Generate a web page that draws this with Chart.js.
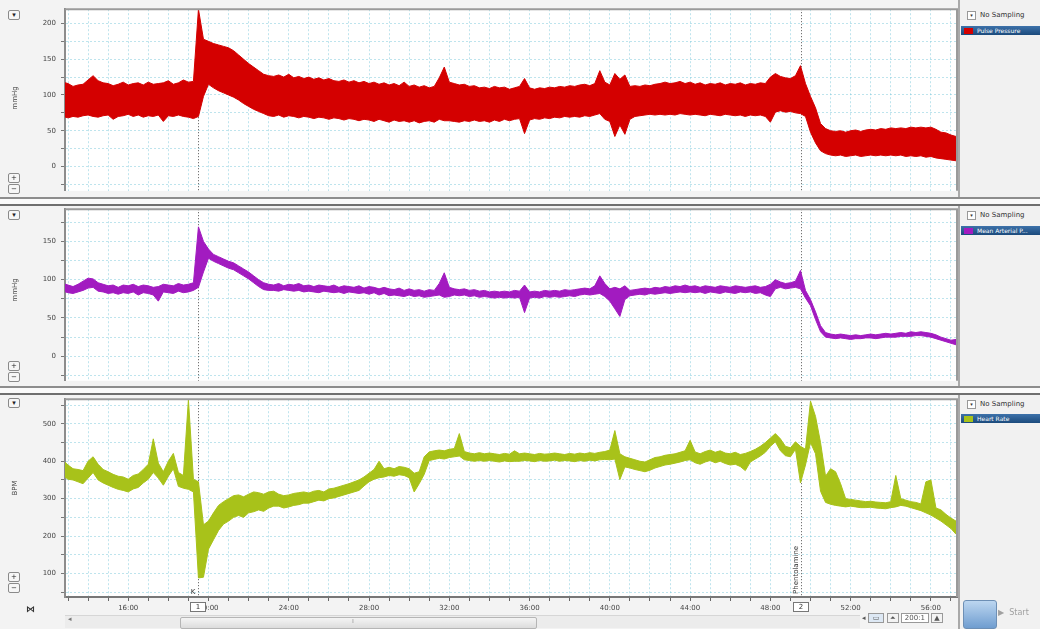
<!DOCTYPE html>
<html>
<head>
<meta charset="utf-8">
<title>LabChart recording</title>
<script src="https://cdn.jsdelivr.net/npm/chart.js@4.4.1/dist/chart.umd.min.js"></script>
<style>
  body { margin: 0; width: 1040px; height: 629px; overflow: hidden; position: relative;
         background: #f3f3f3; font-family: "DejaVu Sans", sans-serif; color: #333; }
  canvas { position: absolute; left: 0; }
  .sep { position: absolute; left: 0; width: 1040px; height: 5px; border-top: 2px solid #8d8d8d;
         border-bottom: 2px solid #6f6f6f; background: #fafafa; z-index: 2; }
  .btn { position: absolute; left: 8px; width: 10px; height: 8px; border: 1px solid #8a8a8a; border-radius: 2px;
         background: #f6f6f6; font-size: 7px; line-height: 8px; text-align: center; color: #222; }
  .unit { position: absolute; left: -5px; width: 40px; font-size: 7px; text-align: center; transform: rotate(-90deg); color: #444; }
  .side { position: absolute; left: 958px; width: 82px; border-left: 2px solid #a9a9a9; background: #f1f1f1; }
  .samp { position: absolute; left: 7px; font-size: 7px; white-space: nowrap; color: #333; }
  .samp b { display: inline-block; width: 7px; height: 7px; border: 1px solid #999; font-size: 5px; line-height: 7px;
            text-align: center; font-weight: normal; margin-right: 4px; background: #fff; }
  .chan { position: absolute; left: 1px; width: 81px; height: 9px; background: linear-gradient(#3d72aa, #1b4a7c);
          color: #fff; font-size: 6px; line-height: 9px; white-space: nowrap; overflow: hidden; }
  .chan i { display: inline-block; width: 9px; height: 6px; margin: 0 4px 0 3px; vertical-align: -1px; }
  .bar { position: absolute; top: 615px; height: 12px; }
</style>
</head>
<body>
<canvas id="pp" width="958" height="200" style="top:0"></canvas>
<canvas id="map" width="958" height="190" style="top:200px"></canvas>
<canvas id="hr" width="958" height="239" style="top:390px"></canvas>

<div class="sep" style="top:197px"></div>
<div class="sep" style="top:386px"></div>

<div class="btn" style="top:10px">▾</div>
<div class="btn" style="top:173px">+</div>
<div class="btn" style="top:184px">−</div>
<div class="unit" style="top:94px">mmHg</div>
<div class="btn" style="top:210px">▾</div>
<div class="btn" style="top:361px">+</div>
<div class="btn" style="top:372px">−</div>
<div class="unit" style="top:286px">mmHg</div>
<div class="btn" style="top:398px">▾</div>
<div class="btn" style="top:572px">+</div>
<div class="btn" style="top:583px">−</div>
<div class="unit" style="top:484px">BPM</div>
<div style="position:absolute;left:26px;top:604px;font-size:9px;font-weight:bold;color:#333">⋈</div>

<div class="side" style="top:0;height:197px">
  <div class="samp" style="top:11px"><b>▾</b>No Sampling</div>
  <div class="chan" style="top:26px"><i style="background:#d40000"></i>Pulse Pressure</div>
</div>
<div class="side" style="top:206px;height:180px">
  <div class="samp" style="top:5px"><b>▾</b>No Sampling</div>
  <div class="chan" style="top:20px"><i style="background:#a21bc0"></i>Mean Arterial P...</div>
</div>
<div class="side" style="top:395px;height:234px">
  <div class="samp" style="top:5px"><b>▾</b>No Sampling</div>
  <div class="chan" style="top:19px"><i style="background:#a8c21a"></i>Heart Rate</div>
  <div style="position:absolute;left:3px;top:205px;width:32px;height:27px;border:1px solid #6d8fb5;border-radius:3px;background:linear-gradient(#bcd6f0,#6f9dd0)"></div>
  <div style="position:absolute;left:38px;top:213px;font-size:8px;color:#a0a0a0">▶ &nbsp;Start</div>
</div>

<div class="bar" style="left:65px;width:795px;background:#ececec;border-top:1px solid #d6d6d6"></div>
<div class="bar" style="left:180px;width:355px;height:10px;top:617px;background:linear-gradient(#f4f4f4,#dcdcdc);border:1px solid #b5b5b5;border-radius:2px"></div>
<div style="position:absolute;left:68px;top:615px;font-size:7px;color:#777">◂</div>
<div style="position:absolute;left:352px;top:617px;font-size:6px;color:#777">⁞</div>
<div style="position:absolute;left:862px;top:614px;font-size:7px;color:#555;white-space:nowrap">
  ◂ <span style="border:1px solid #999;padding:0 4px;background:#dde8f4">▭</span>
  <span style="border:1px solid #999;padding:0 2px">⏶</span>
  <span style="border:1px solid #999;padding:0 3px;background:#fff">200:1</span>
  <span style="border:1px solid #999;padding:0 2px">▲</span>
</div>

<script>
// sample grid of the traces (minutes)
const t0 = 12.75;
const dt = 0.25;
const xMin = 12.85, xMax = 57.3;

// Pulse Pressure (mmHg): upper / lower envelope of the pulsatile trace
const ppHigh = [118,116,112,114,115,121,127,120,117,116,
  113,115,118,114,116,117,114,118,115,116,
  117,120,115,117,121,118,119,220,178,175,
  172,170,168,166,162,156,150,144,139,134,
  129,127,126,128,125,129,124,126,123,125,
  122,124,121,123,120,119,121,118,120,117,
  119,116,118,115,117,114,116,113,118,112,
  114,111,113,110,112,124,139,118,116,114,
  115,112,113,110,111,109,112,110,111,108,
  110,112,123,110,108,110,109,111,110,112,
  111,113,112,114,115,113,116,134,118,114,
  130,122,128,112,113,112,114,113,115,116,
  118,116,117,119,116,118,115,117,114,116,
  115,117,114,116,115,117,114,116,115,117,
  116,125,130,126,124,123,127,141,116,98,
  82,60,53,50,49,50,48,50,51,49,
  51,52,51,53,52,54,53,54,53,55,
  54,55,54,55,52,48,47,44,42];
const ppLow = [70,68,70,69,71,72,70,69,71,72,
  66,70,71,73,70,72,69,71,70,72,
  63,71,70,72,70,69,67,70,98,115,
  110,106,103,100,97,93,88,84,80,77,
  74,71,70,72,69,71,70,68,70,69,
  67,69,68,66,68,67,65,67,66,64,
  66,65,63,66,64,62,65,63,64,62,
  64,61,63,64,62,66,64,64,63,62,
  64,63,65,63,64,62,65,63,66,64,
  66,67,46,65,67,66,68,67,69,68,
  70,69,70,69,71,70,72,74,66,63,
  42,58,45,66,70,71,72,73,72,73,
  72,73,72,74,73,72,73,72,71,73,
  72,71,73,72,71,72,70,72,71,72,
  70,62,76,78,76,77,75,74,70,48,
  33,22,18,16,15,16,14,15,16,14,
  15,16,15,16,15,16,15,16,14,15,
  14,15,13,14,12,11,10,9,8];

// Mean Arterial Pressure (mmHg)
const mapHigh = [95,93,91,94,98,102,101,96,94,92,
  93,90,93,92,94,91,93,92,90,91,
  94,93,92,95,93,94,96,169,150,140,
  133,130,127,124,122,118,114,110,105,100,
  96,94,93,95,92,94,93,95,92,93,
  91,93,92,91,93,90,92,91,90,92,
  89,91,90,88,90,88,87,89,86,88,
  86,87,85,87,86,95,109,90,88,87,
  88,86,87,85,86,84,85,84,85,84,
  86,85,93,84,85,84,86,85,86,85,
  87,86,87,88,89,88,92,105,95,88,
  90,88,92,86,87,88,89,88,90,89,
  91,90,92,91,93,91,92,90,92,91,
  90,92,91,90,92,91,90,91,92,90,
  91,94,100,97,95,96,98,112,86,74,
  58,40,31,29,28,29,28,27,28,27,
  28,29,28,29,30,29,30,31,30,32,
  31,32,31,30,28,25,23,21,22];
const mapLow = [85,83,82,84,86,89,90,85,84,82,
  83,81,83,82,84,80,83,82,80,72,
  84,83,82,85,83,84,86,90,110,128,
  124,121,118,115,113,109,105,101,96,91,
  87,86,86,85,87,86,85,86,84,85,
  84,83,85,84,83,84,82,84,83,82,
  83,81,83,80,82,79,80,79,78,80,
  78,79,77,78,79,80,77,78,80,79,
  80,78,79,77,78,77,76,77,76,77,
  76,77,57,76,77,76,78,77,78,77,
  78,79,78,80,81,80,81,82,78,72,
  62,52,74,79,80,81,80,82,81,82,
  83,82,83,84,83,84,83,84,82,84,
  83,82,84,83,82,84,83,84,82,83,
  80,78,88,90,88,89,90,88,76,66,
  48,32,25,24,23,24,23,22,23,23,
  24,24,23,24,25,25,25,26,26,26,
  27,27,26,25,23,21,19,17,15];

// Heart Rate (BPM)
const hrHigh = [402,390,380,378,375,400,412,392,378,372,
  365,360,358,352,362,366,378,392,460,395,
  372,400,421,370,362,565,352,345,230,240,
  262,282,292,300,308,310,305,312,318,316,
  312,318,320,312,308,310,314,316,318,315,
  320,322,318,326,328,332,336,340,345,350,
  358,368,378,400,380,384,380,386,384,380,
  368,372,412,425,428,430,428,432,434,474,
  426,422,420,423,420,422,420,418,421,419,
  428,420,422,420,418,421,419,420,422,420,
  418,421,419,422,420,423,421,424,426,430,
  482,420,412,408,404,400,398,404,410,412,
  416,418,420,424,428,456,425,420,426,430,
  424,428,422,420,424,418,421,426,432,440,
  450,462,474,460,440,436,452,440,432,561,
  520,450,360,380,372,340,300,298,296,294,
  292,293,291,290,289,292,362,300,296,292,
  290,286,345,350,275,270,258,248,240];
const hrLow = [362,352,350,345,340,355,370,350,342,336,
  330,325,322,318,326,330,342,352,370,355,
  336,360,380,333,328,325,318,88,90,165,
  190,215,232,240,250,255,250,262,265,270,
  266,275,280,280,275,278,282,284,288,288,
  292,296,294,300,302,306,310,314,318,322,
  334,345,352,356,358,362,360,364,362,356,
  318,340,365,402,405,408,406,410,412,414,
  404,402,400,402,400,402,400,398,401,399,
  400,400,402,401,399,402,400,401,403,400,
  402,401,399,402,400,403,401,404,405,404,
  406,351,385,382,378,375,372,376,382,386,
  390,392,395,398,402,404,396,392,398,402,
  396,400,394,390,392,386,375,398,406,414,
  424,440,452,428,415,412,432,342,390,450,
  420,320,290,285,282,280,278,280,278,276,
  276,277,275,274,273,276,278,282,280,276,
  272,268,262,256,248,240,230,220,205];

// axis ticks
const ppTicks = [-25, 0, 25, 50, 75, 100, 125, 150, 175, 200];
const mapTicks = [-25, 0, 25, 50, 75, 100, 125, 150, 175];
const hrTicks = [50, 100, 150, 200, 250, 300, 350, 400, 450, 500, 550];
const minuteTicks = [];
for (let m = 13; m <= 57; m++) minuteTicks.push(m);

// event markers and comments
const markerTimes = [19.5, 49.55];
const markerNames = ["1", "2"];
const commentTimes = [19.4, 49.5];
const commentTexts = ["K", "Phentolamine"];
const commentRotated = [false, true];

const gridColor = "rgba(110, 195, 215, 0.45)";
const tickFont = { family: "DejaVu Sans", size: 7 };

const panelPlugin = {
    id: "panel",
    beforeDraw(chart) {
        const { ctx, chartArea: a } = chart;
        ctx.save();
        ctx.fillStyle = "#ffffff";
        ctx.fillRect(a.left, a.top, a.right - a.left, a.bottom - a.top);
        ctx.restore();
    },
    beforeDatasetsDraw(chart) {
        const { ctx, chartArea: a, scales: { x } } = chart;
        ctx.save();
        ctx.strokeStyle = "#555";
        ctx.lineWidth = 1;
        ctx.setLineDash([1, 2]);
        markerTimes.forEach(t => {
            const px = Math.round(x.getPixelForValue(t)) + 0.5;
            ctx.beginPath();
            ctx.moveTo(px, a.top);
            ctx.lineTo(px, a.bottom);
            ctx.stroke();
        });
        ctx.restore();
    },
    afterDraw(chart) {
        const { ctx, chartArea: a } = chart;
        ctx.save();
        ctx.strokeStyle = "#9a9a9a";
        ctx.lineWidth = 2;
        ctx.beginPath();
        ctx.moveTo(a.left, a.top);
        ctx.lineTo(a.right, a.top);
        ctx.lineTo(a.right, a.bottom);
        ctx.stroke();
        ctx.restore();
    }
};

// marker boxes on the time axis, comments along the marker lines
const notesPlugin = {
    id: "notes",
    afterDraw(chart) {
        const { ctx, chartArea: a, scales: { x } } = chart;
        ctx.save();
        ctx.font = "7px 'DejaVu Sans'";
        markerTimes.forEach((t, i) => {
            const px = Math.round(x.getPixelForValue(t));
            ctx.fillStyle = "#fff";
            ctx.fillRect(px - 7.5, a.bottom + 5.5, 15, 9);
            ctx.strokeStyle = "#777";
            ctx.lineWidth = 1;
            ctx.strokeRect(px - 7.5, a.bottom + 5.5, 15, 9);
            ctx.fillStyle = "#333";
            ctx.textAlign = "center";
            ctx.textBaseline = "middle";
            ctx.fillText(markerNames[i], px, a.bottom + 10.5);
        });
        commentTimes.forEach((t, i) => {
            const px = x.getPixelForValue(t);
            ctx.save();
            ctx.fillStyle = "#333";
            if (commentRotated[i]) {
                ctx.translate(px - 1, a.bottom - 3);
                ctx.rotate(-Math.PI / 2);
                ctx.textAlign = "left";
                ctx.textBaseline = "bottom";
            } else {
                ctx.translate(px - 1, a.bottom - 1);
                ctx.textAlign = "right";
                ctx.textBaseline = "bottom";
            }
            ctx.fillText(commentTexts[i], 0, 0);
            ctx.restore();
        });
        ctx.restore();
    }
};

function makeChart(id, high, low, color, yMin, yMax, yTicks, labelStep, pad, bottomAxis) {
    const pts = arr => arr.map((v, i) => ({ x: t0 + i * dt, y: v }));
    const xScale = {
        type: "linear", min: xMin, max: xMax,
        afterBuildTicks: s => { s.ticks = minuteTicks.map(v => ({ value: v })); },
        ticks: { display: false },
        grid: { color: gridColor, drawTicks: false },
        border: { display: false, dash: [2, 2] }
    };
    if (bottomAxis) {
        xScale.afterFit = s => { s.height = 18; };
        xScale.ticks = {
            autoSkip: false, maxRotation: 0, padding: 3, color: "#444", font: tickFont,
            callback: v => v % 4 === 0 ? v + ":00" : ""
        };
        xScale.grid = { color: gridColor, tickColor: "#666", tickLength: 4 };
        xScale.border = { display: true, color: "#777", width: 2, dash: [2, 2] };
    }
    return new Chart(document.getElementById(id), {
        type: "line",
        data: {
            datasets: [
                { data: pts(high), borderColor: color, backgroundColor: color, borderWidth: 1, fill: "+1" },
                { data: pts(low), borderColor: color, backgroundColor: color, borderWidth: 1, fill: false }
            ]
        },
        options: {
            responsive: false,
            animation: false,
            layout: { padding: pad },
            elements: { point: { radius: 0 }, line: { tension: 0 } },
            plugins: { legend: { display: false }, tooltip: { enabled: false } },
            scales: {
                x: xScale,
                y: {
                    min: yMin, max: yMax,
                    afterBuildTicks: s => { s.ticks = yTicks.map(v => ({ value: v })); },
                    afterFit: s => { s.width = 65; },
                    ticks: {
                        autoSkip: false, padding: 5, color: "#444", font: tickFont,
                        callback: v => v % labelStep === 0 ? v : ""
                    },
                    grid: { color: gridColor, tickColor: "#777", tickLength: 4 },
                    border: { display: true, color: "#8c8c8c", width: 2, dash: [2, 2] }
                }
            }
        },
        plugins: bottomAxis ? [panelPlugin, notesPlugin] : [panelPlugin]
    });
}

makeChart("pp", ppHigh, ppLow, "#d40000", -34, 220, ppTicks, 50,
    { top: 8, bottom: 4, left: 0, right: 1 }, false);
makeChart("map", mapHigh, mapLow, "#a21bc0", -32, 192, mapTicks, 50,
    { top: 7, bottom: 5, left: 0, right: 1 }, false);
makeChart("hr", hrHigh, hrLow, "#a8c21a", 37, 566, hrTicks, 100,
    { top: 5, bottom: 14, left: 0, right: 1 }, true);
</script>
</body>
</html>
